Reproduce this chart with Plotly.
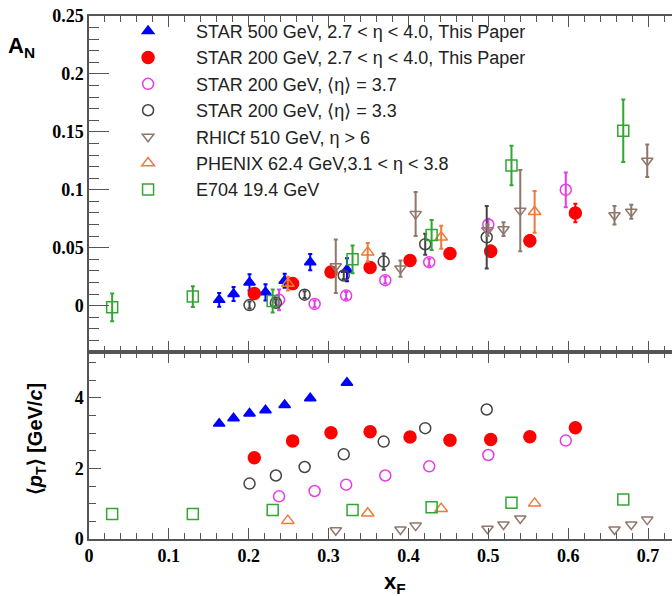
import plotly.graph_objects as go

# ---------------- data ----------------
star500_x = [0.163, 0.181, 0.201, 0.221, 0.245, 0.277, 0.323]
star500_an = [0.005, 0.010, 0.020, 0.0115, 0.0215, 0.0375, 0.031]
star500_err = [0.006, 0.006, 0.007, 0.007, 0.006, 0.007, 0.010]
star500_pt = [3.27, 3.42, 3.56, 3.65, 3.80, 3.99, 4.43]

star200_x = [0.207, 0.255, 0.303, 0.352, 0.402, 0.452, 0.503, 0.552, 0.609]
star200_an = [0.0105, 0.019, 0.029, 0.033, 0.039, 0.045, 0.047, 0.056, 0.080]
star200_err = [0.003, 0.004, 0.004, 0.004, 0.004, 0.004, 0.005, 0.005, 0.008]
star200_pt = [2.30, 2.78, 3.01, 3.04, 2.89, 2.80, 2.82, 2.90, 3.15]

eta37_x = [0.238, 0.2825, 0.322, 0.371, 0.426, 0.500, 0.597]
eta37_an = [0.005, 0.0015, 0.0087, 0.022, 0.0375, 0.070, 0.100]
eta37_err = [0.009, 0.003, 0.003, 0.003, 0.003, 0.005, 0.015]
eta37_pt = [1.21, 1.36, 1.54, 1.80, 2.06, 2.38, 2.79]

eta33_x = [0.201, 0.234, 0.270, 0.319, 0.369, 0.421, 0.498]
eta33_an = [0.0005, 0.0025, 0.0095, 0.026, 0.038, 0.053, 0.059]
eta33_err = [0.003, 0.003, 0.003, 0.003, 0.007, 0.009, 0.027]
eta33_pt = [1.57, 1.80, 2.04, 2.40, 2.76, 3.14, 3.67]

rhicf_x = [0.309, 0.390, 0.409, 0.499, 0.519, 0.540, 0.658, 0.679, 0.699]
rhicf_an = [0.034, 0.032, 0.079, 0.065, 0.066, 0.082, 0.078, 0.081, 0.125]
rhicf_err = [0.023, 0.007, 0.019, 0.005, 0.006, 0.035, 0.008, 0.006, 0.014]
rhicf_pt = [0.25, 0.27, 0.38, 0.29, 0.41, 0.58, 0.27, 0.41, 0.55]

phenix_x = [0.249, 0.349, 0.441, 0.558]
phenix_an = [0.019, 0.046, 0.059, 0.081]
phenix_err = [0.006, 0.008, 0.010, 0.018]
phenix_pt = [0.52, 0.73, 0.86, 1.01]

e704_x = [0.029, 0.130, 0.230, 0.330, 0.429, 0.529, 0.669]
e704_an = [-0.0015, 0.0078, 0.004, 0.040, 0.061, 0.121, 0.151]
e704_err = [0.012, 0.009, 0.010, 0.012, 0.013, 0.017, 0.027]
e704_pt = [0.71, 0.71, 0.82, 0.82, 0.90, 1.03, 1.12]

series = [
    ("STAR 500 GeV, 2.7 < η < 4.0, This Paper", star500_x, star500_an, star500_err, star500_pt,
     "triangle-up", "#0000ff", 10),
    ("STAR 200 GeV, 2.7 < η < 4.0, This Paper", star200_x, star200_an, star200_err, star200_pt,
     "circle", "#ff0000", 12),
    ("STAR 200 GeV, ⟨η⟩ = 3.7", eta37_x, eta37_an, eta37_err, eta37_pt,
     "circle-open", "#e83ae8", 11),
    ("STAR 200 GeV, ⟨η⟩ = 3.3", eta33_x, eta33_an, eta33_err, eta33_pt,
     "circle-open", "#444444", 11),
    ("RHICf 510 GeV, η > 6", rhicf_x, rhicf_an, rhicf_err, rhicf_pt,
     "triangle-down-open", "#8f776b", 10),
    ("PHENIX 62.4 GeV,3.1 < η < 3.8", phenix_x, phenix_an, phenix_err, phenix_pt,
     "triangle-up-open", "#f07a3a", 11),
    ("E704 19.4 GeV", e704_x, e704_an, e704_err, e704_pt,
     "square-open", "#34a534", 11),
]

fig = go.Figure()
for i, (name, x, an, err, pt, sym, col, sz) in enumerate(series):
    fig.add_trace(go.Scatter(
        x=x, y=an, mode="markers", name=name, legendgroup=name,
        marker=dict(symbol=sym, color=col, size=sz, line=dict(color=col, width=1.5)),
        error_y=dict(type="data", array=err, color=col, thickness=2, width=2),
        xaxis="x", yaxis="y", showlegend=True,
    ))
for i, (name, x, an, err, pt, sym, col, sz) in enumerate(series):
    fig.add_trace(go.Scatter(
        x=x, y=pt, mode="markers", name=name, legendgroup=name,
        marker=dict(symbol=sym, color=col, size=sz, line=dict(color=col, width=1.5)),
        xaxis="x2", yaxis="y2", showlegend=False,
    ))

tickfont = dict(family="Liberation Serif", size=18, color="black", weight="bold")
axcol = "#555555"
split = 0.3576

common_x = dict(range=[0, 0.73], dtick=0.1, tick0=0, ticks="inside", ticklen=11,
                tickwidth=1.2, tickcolor=axcol, showline=True, linecolor=axcol, linewidth=1.5,
                mirror="allticks", showgrid=False, zeroline=False,
                minor=dict(dtick=0.02, ticklen=6, tickcolor=axcol, ticks="inside", tickwidth=1.2),
                tickfont=tickfont)

fig.update_layout(
    width=672, height=596,
    margin=dict(l=89, r=0, t=16, b=57),
    paper_bgcolor="white", plot_bgcolor="white",
    xaxis=dict(domain=[0, 1], anchor="y", showticklabels=False, matches="x2", **common_x),
    xaxis2=dict(domain=[0, 1], anchor="y2", **common_x),
    yaxis=dict(domain=[split, 1], anchor="x", range=[-0.04, 0.25], dtick=0.05, tick0=0,
               ticks="inside", ticklen=20, tickwidth=1.2, tickcolor=axcol,
               showline=True, linecolor=axcol, linewidth=1.5, showgrid=False, zeroline=False,
               minor=dict(dtick=0.01, ticklen=10, tickcolor=axcol, ticks="inside", tickwidth=1.2),
               tickfont=tickfont),
    yaxis2=dict(domain=[0, split], anchor="x2", range=[0, 5.3], dtick=2, tick0=0,
                ticks="inside", ticklen=12, tickwidth=1.2, tickcolor=axcol,
                showline=True, linecolor=axcol, linewidth=1.5, showgrid=False, zeroline=False,
                minor=dict(dtick=0.5, ticklen=7, tickcolor=axcol, ticks="inside", tickwidth=1.2),
                tickfont=tickfont),
    legend=dict(x=0.019, y=1.006, xanchor="left", yanchor="top",
                font=dict(family="Liberation Sans", size=18, color="#222222"),
                bgcolor="rgba(255,255,255,0)", itemwidth=86, tracegroupgap=3,
                traceorder="normal"),
    showlegend=True,
)

fig.add_annotation(text="<b>A<sub>N</sub></b>", xref="paper", yref="paper",
                   x=-0.115, y=0.94, xanchor="center", yanchor="middle", showarrow=False,
                   font=dict(family="Liberation Sans", size=22, color="black"))
fig.add_annotation(text="<b>⟨<i>p</i><sub>T</sub>⟩ [GeV/<i>c</i>]</b>", xref="paper", yref="paper",
                   x=-0.09, y=0.19, xanchor="center", yanchor="middle", showarrow=False,
                   textangle=-90,
                   font=dict(family="Liberation Sans", size=20, color="black"))
fig.add_annotation(text="<b>x<sub>F</sub></b>", xref="paper", yref="paper",
                   x=0.525, y=-0.085, xanchor="center", yanchor="middle", showarrow=False,
                   font=dict(family="Liberation Sans", size=22, color="black"))

fig.write_html("out.html")
